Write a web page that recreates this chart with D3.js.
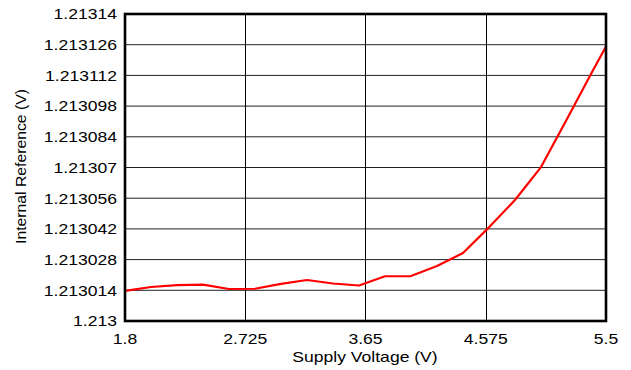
<!DOCTYPE html>
<html>
<head>
<meta charset="utf-8">
<script src="https://cdn.jsdelivr.net/npm/d3@7"></script>
<style>
html,body{margin:0;padding:0;background:#fff;}
svg{display:block;}
text{font-family:"Liberation Sans",Arial,sans-serif;fill:#000;}
</style>
</head>
<body>
<svg id="chart" width="631" height="370"></svg>
<script>
const voltages = [1.8, 2.0, 2.2, 2.4, 2.6, 2.8, 3.0, 3.2, 3.4, 3.6, 3.8, 4.0, 4.2, 4.4, 4.6, 4.8, 5.0, 5.2, 5.4, 5.5];
const reference = [1.2130137, 1.2130155, 1.2130164, 1.2130166, 1.2130146, 1.2130147, 1.2130169, 1.2130187, 1.2130171, 1.2130162,
                   1.2130204, 1.2130205, 1.2130251, 1.2130310, 1.2130427, 1.2130552, 1.2130702, 1.2130921, 1.2131143, 1.2131252];
const xTicks = [1.8, 2.725, 3.65, 4.575, 5.5];
const xTickLabels = ["1.8", "2.725", "3.65", "4.575", "5.5"];
const yTicks = [1.213, 1.213014, 1.213028, 1.213042, 1.213056, 1.21307, 1.213084, 1.213098, 1.213112, 1.213126, 1.21314];
const yTickLabels = ["1.213", "1.213014", "1.213028", "1.213042", "1.213056", "1.21307", "1.213084", "1.213098", "1.213112", "1.213126", "1.21314"];
const xTitle = "Supply Voltage (V)";
const yTitle = "Internal Reference (V)";

const svg = d3.select("#chart");
const L = 125, R = 606, T = 14, B = 321;
const x = d3.scaleLinear().domain([1.8, 5.5]).range([L, R]);
const y = d3.scaleLinear().domain([1.213, 1.21314]).range([B, T]);

function stretch(sel, f) {
  sel.each(function() {
    const w = this.getComputedTextLength();
    d3.select(this).attr("textLength", w * f).attr("lengthAdjust", "spacingAndGlyphs");
  });
}

// grid
svg.append("g").selectAll("line").data(yTicks.slice(1, -1)).join("line")
  .attr("x1", L).attr("x2", R).attr("y1", d => y(d)).attr("y2", d => y(d))
  .attr("stroke", "#222").attr("stroke-width", 1);
svg.append("g").selectAll("line").data(xTicks.slice(1, -1)).join("line")
  .attr("x1", d => Math.round(x(d)) + 0.5).attr("x2", d => Math.round(x(d)) + 0.5).attr("y1", T).attr("y2", B)
  .attr("stroke", "#000").attr("stroke-width", 1);

// line
const line = d3.line().x((d, i) => x(voltages[i])).y(d => y(d));
svg.append("path").datum(reference).attr("d", line)
  .attr("fill", "none").attr("stroke", "#ff0000").attr("stroke-width", 2.2).attr("stroke-linejoin", "round");

// frame
svg.append("rect").attr("x", L).attr("y", T).attr("width", R - L).attr("height", B - T)
  .attr("fill", "none").attr("stroke", "#000").attr("stroke-width", 2.6);

// y tick labels
const yl = svg.append("g").selectAll("text").data(yTicks).join("text")
  .attr("x", 117).attr("y", d => y(d) + 5.3).attr("text-anchor", "end")
  .style("font-size", "15px").text((d, i) => yTickLabels[i]);
stretch(yl, 1.17);

// x tick labels
const xl = svg.append("g").selectAll("text").data(xTicks).join("text")
  .attr("x", d => x(d)).attr("y", 344).attr("text-anchor", "middle")
  .style("font-size", "15px").text((d, i) => xTickLabels[i]);
stretch(xl, 1.17);

// titles
const xt = svg.append("text").attr("x", 365).attr("y", 362).attr("text-anchor", "middle")
  .style("font-size", "15px").text(xTitle);
stretch(xt, 1.17);
const yt = svg.append("text").attr("transform", "translate(26,166.5) rotate(-90)").attr("text-anchor", "middle")
  .style("font-size", "15px").text(yTitle);
stretch(yt, 1.05);
</script>
</body>
</html>
